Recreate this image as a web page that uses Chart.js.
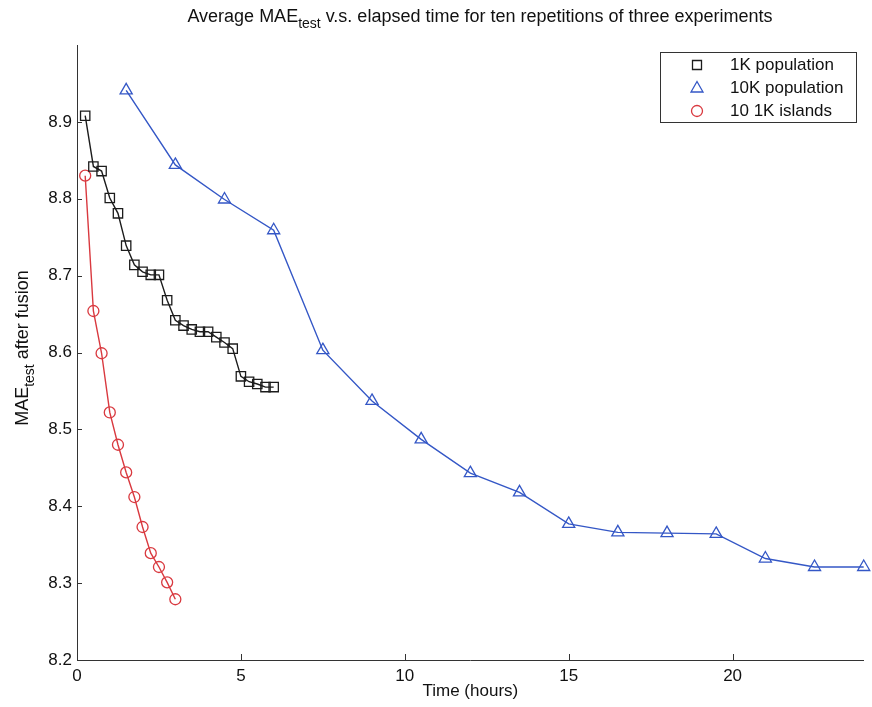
<!DOCTYPE html>
<html>
<head>
<meta charset="utf-8">
<script src="https://cdn.jsdelivr.net/npm/chart.js@4/dist/chart.umd.min.js"></script>
<style>
  html, body { margin: 0; padding: 0; background: #fff; }
  #wrap { width: 872px; height: 707px; }
</style>
</head>
<body>
<div id="wrap"><canvas id="chart"></canvas></div>
<script>
const hours1K = [0.25, 0.5, 0.75, 1, 1.25, 1.5, 1.75, 2, 2.25, 2.5, 2.75, 3,
                 3.25, 3.5, 3.75, 4, 4.25, 4.5, 4.75, 5, 5.25, 5.5, 5.75, 6]
const mae1K = [8.908, 8.842, 8.836, 8.801, 8.781, 8.739, 8.714, 8.705, 8.701, 8.701, 8.668, 8.642,
               8.635, 8.630, 8.627, 8.627, 8.620, 8.613, 8.605, 8.569, 8.562, 8.559, 8.555, 8.555]
const hours10K = [1.5, 3, 4.5, 6, 7.5, 9, 10.5, 12, 13.5, 15, 16.5, 18, 19.5, 21, 22.5, 24]
const mae10K = [8.941, 8.844, 8.799, 8.759, 8.603, 8.537, 8.487, 8.443, 8.418, 8.377,
                8.366, 8.365, 8.364, 8.332, 8.321, 8.321]
const hoursIslands = [0.25, 0.5, 0.75, 1, 1.25, 1.5, 1.75, 2, 2.25, 2.5, 2.75, 3]
const maeIslands = [8.830, 8.654, 8.599, 8.522, 8.480, 8.444, 8.412, 8.373, 8.339, 8.321, 8.301, 8.279]
const seriesNames = ["1K population", "10K population", "10 1K islands"]
const yTicks = [8.2, 8.3, 8.4, 8.5, 8.6, 8.7, 8.8, 8.9]
const xTicks = [0, 5, 10, 15, 20]

const FONT = '"Liberation Sans", Arial, Helvetica, sans-serif'
const BLACK = "#1c1c1c", BLUE = "#3457c6", RED = "#d9393f"

function pts(xs, ys) {
  return xs.map((x, i) => ({ x: x, y: ys[i] }))
}

// text with a subscript part, drawn left to right from x
function subText(ctx, parts, x, y) {
  parts.forEach(p => {
    ctx.font = (p.sub ? "14px " : "18px ") + FONT
    ctx.fillText(p.t, x, y + (p.sub ? 6 : 0))
    x += ctx.measureText(p.t).width
  })
}
function subWidth(ctx, parts) {
  let w = 0
  parts.forEach(p => {
    ctx.font = (p.sub ? "14px " : "18px ") + FONT
    w += ctx.measureText(p.t).width
  })
  return w
}

function drawMarker(ctx, style, x, y, color) {
  ctx.save()
  ctx.strokeStyle = color
  ctx.lineWidth = 1.3
  ctx.beginPath()
  if (style === "rect") {
    ctx.rect(x - 4.5, y - 4.5, 9, 9)
  } else if (style === "triangle") {
    ctx.moveTo(x, y - 6.5)
    ctx.lineTo(x + 6, y + 4)
    ctx.lineTo(x - 6, y + 4)
    ctx.closePath()
  } else {
    ctx.arc(x, y, 5.5, 0, Math.PI * 2)
  }
  ctx.stroke()
  ctx.restore()
}

const decorations = {
  id: "decorations",
  afterDraw(chart) {
    const ctx = chart.ctx
    const area = chart.chartArea
    const xs = chart.scales.x, ys = chart.scales.y

    // inward tick marks
    ctx.save()
    ctx.strokeStyle = "#333"
    ctx.lineWidth = 1
    ctx.beginPath()
    yTicks.forEach(v => {
      const py = Math.round(ys.getPixelForValue(v)) + 0.5
      ctx.moveTo(area.left, py)
      ctx.lineTo(area.left + 5, py)
    })
    xTicks.forEach(v => {
      const px = Math.round(xs.getPixelForValue(v)) + 0.5
      ctx.moveTo(px, area.bottom)
      ctx.lineTo(px, area.bottom - 6)
    })
    ctx.stroke()
    ctx.restore()

    // title
    ctx.save()
    ctx.fillStyle = "#111"
    ctx.textBaseline = "alphabetic"
    const title = [
      { t: "Average MAE" }, { t: "test", sub: true },
      { t: " v.s. elapsed time for ten repetitions of three experiments" }
    ]
    const tw = subWidth(ctx, title)
    subText(ctx, title, 480 - tw / 2, 22)

    // y axis title, rotated
    const ytitle = [{ t: "MAE" }, { t: "test", sub: true }, { t: " after fusion" }]
    const yw = subWidth(ctx, ytitle)
    ctx.translate(28, 348)
    ctx.rotate(-Math.PI / 2)
    subText(ctx, ytitle, -yw / 2, 0)
    ctx.restore()

    // legend box
    ctx.save()
    ctx.strokeStyle = "#333"
    ctx.lineWidth = 1
    ctx.fillStyle = "#fff"
    ctx.fillRect(660, 52, 196, 70)
    ctx.strokeRect(660.5, 52.5, 196, 70)
    const styles = ["rect", "triangle", "circle"]
    const colors = [BLACK, BLUE, RED]
    ctx.font = "17px " + FONT
    ctx.fillStyle = "#111"
    ctx.textBaseline = "middle"
    seriesNames.forEach((name, i) => {
      const y = 65 + i * 23
      drawMarker(ctx, styles[i], 697, y, colors[i])
      ctx.fillText(name, 730, y)
    })
    ctx.restore()
  }
}

new Chart(document.getElementById("chart"), {
  type: "line",
  data: {
    datasets: [
      {
        label: seriesNames[0],
        data: pts(hours1K, mae1K),
        borderColor: BLACK,
        pointBorderColor: BLACK,
        pointStyle: "rect",
        pointRadius: 6.6,
      },
      {
        label: seriesNames[1],
        data: pts(hours10K, mae10K),
        borderColor: BLUE,
        pointBorderColor: BLUE,
        pointStyle: "triangle",
        pointRadius: 7,
      },
      {
        label: seriesNames[2],
        data: pts(hoursIslands, maeIslands),
        borderColor: RED,
        pointBorderColor: RED,
        pointStyle: "circle",
        pointRadius: 5.5,
      },
    ].map(d => Object.assign(d, {
      borderWidth: 1.4,
      pointBorderWidth: 1.3,
      pointBackgroundColor: "rgba(0,0,0,0)",
      tension: 0,
      clip: false,
    })),
  },
  options: {
    responsive: true,
    maintainAspectRatio: false,
    animation: false,
    layout: { padding: { top: 45, right: 7, left: 0, bottom: 0 } },
    plugins: {
      legend: { display: false },
      tooltip: { enabled: false },
    },
    scales: {
      x: {
        type: "linear",
        min: 0,
        max: 24,
        grid: { display: false, drawTicks: false },
        border: { display: true, color: "#333", width: 1 },
        ticks: {
          stepSize: 5,
          autoSkip: false,
          maxRotation: 0,
          padding: 6,
          color: "#111",
          font: { family: FONT, size: 17 },
          callback: v => (v % 5 === 0 ? v : ""),
        },
        title: {
          display: true,
          text: "Time (hours)",
          color: "#111",
          font: { family: FONT, size: 17 },
          padding: { top: 0, bottom: 5 },
        },
        afterFit: s => { s.height = 47 },
      },
      y: {
        min: 8.2,
        max: 9.0,
        grid: { display: false, drawTicks: false },
        border: { display: true, color: "#333", width: 1 },
        ticks: {
          stepSize: 0.1,
          padding: 5,
          color: "#111",
          font: { family: FONT, size: 17 },
          callback: v => (v > 8.95 ? "" : v.toFixed(1)),
        },
        afterFit: s => { s.width = 77 },
      },
    },
  },
  plugins: [decorations],
})
</script>
</body>
</html>
